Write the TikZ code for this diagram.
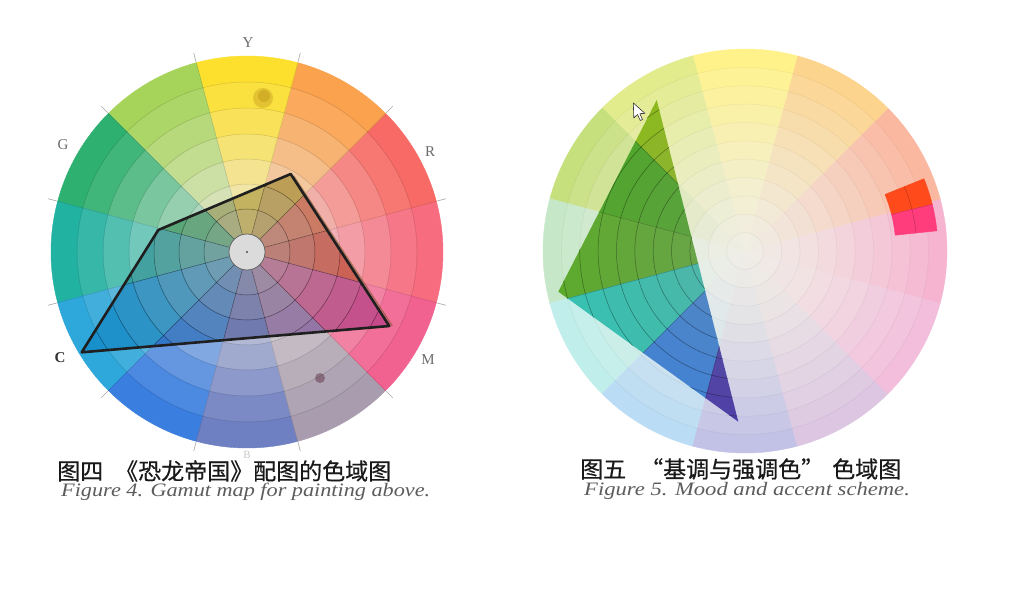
\documentclass[tikz,border=0pt]{standalone}
\usepackage{fontspec}
\setmainfont{Liberation Serif}
\newfontfamily\cjk[FakeBold=0.5]{Noto Sans CJK SC}
\usetikzlibrary{calc}
% left wheel, outside the gamut polygon
\definecolor{L0}{HTML}{F76C7E}\definecolor{L1}{HTML}{F86A66}\definecolor{L2}{HTML}{FBA24E}
\definecolor{L3}{HTML}{FDE02E}\definecolor{L4}{HTML}{A6D45A}\definecolor{L5}{HTML}{2EB070}
\definecolor{L6}{HTML}{22B2A2}\definecolor{L7}{HTML}{2EA8DA}\definecolor{L8}{HTML}{3A7EE0}
\definecolor{L9}{HTML}{6E80C2}\definecolor{L10}{HTML}{A89CAE}\definecolor{L11}{HTML}{F26290}
\definecolor{Lc}{HTML}{ECE8E2}
% left wheel, inside the gamut polygon
\definecolor{D0}{HTML}{D84A3A}\definecolor{D1}{HTML}{E06040}\definecolor{D2}{HTML}{C89A28}
\definecolor{D3}{HTML}{DEC020}\definecolor{D4}{HTML}{A8B850}\definecolor{D5}{HTML}{28A860}
\definecolor{D6}{HTML}{20A0A0}\definecolor{D7}{HTML}{1890CC}\definecolor{D8}{HTML}{2070D0}
\definecolor{D9}{HTML}{5060B8}\definecolor{D10}{HTML}{8C64A8}\definecolor{D11}{HTML}{C84488}
\definecolor{Dc}{HTML}{A8A4A0}
% right wheel, pastel
\definecolor{R0}{HTML}{F6B4D0}\definecolor{R1}{HTML}{FBB8A0}\definecolor{R2}{HTML}{FCD48E}
\definecolor{R3}{HTML}{FFF28A}\definecolor{R4}{HTML}{E2EC8C}\definecolor{R5}{HTML}{C6E07E}
\definecolor{R6}{HTML}{C6E8C8}\definecolor{R7}{HTML}{C0EEEA}\definecolor{R8}{HTML}{BADCF4}
\definecolor{R9}{HTML}{C2C2E6}\definecolor{R10}{HTML}{DCC6E2}\definecolor{R11}{HTML}{F2BEDC}
\definecolor{Rc}{HTML}{F0EEE6}
% right wheel, saturated inside triangle
\definecolor{T0}{HTML}{909090}\definecolor{T1}{HTML}{909090}\definecolor{T2}{HTML}{909090}
\definecolor{T3}{HTML}{909090}\definecolor{T4}{HTML}{8CBA1A}\definecolor{T5}{HTML}{4CA624}
\definecolor{T6}{HTML}{5CAA2C}\definecolor{T7}{HTML}{34C2B2}\definecolor{T8}{HTML}{3C80D8}
\definecolor{T9}{HTML}{4A3AA8}\definecolor{T10}{HTML}{909090}\definecolor{T11}{HTML}{909090}
\definecolor{Tc}{HTML}{8C9890}
\definecolor{accred}{HTML}{FF4A1C}\definecolor{accpink}{HTML}{FF3C7C}
\newcommand\wcell[5]{\filldraw[fill={#1},draw={#1},line width=.4pt] (#2:#4pt) arc[start angle=#2,end angle=#3,radius=#4pt] -- (#3:#5pt) arc[start angle=#3,end angle=#2,radius=#5pt] -- cycle;}
\tikzset{
  lab/.style={font=\fontsize{15}{15}\selectfont, text=black!58, inner sep=0pt},
  capzh/.style={anchor=west, font=\cjk\fontsize{23}{23}\selectfont, text=black!90, inner sep=0pt},
  capen/.style={anchor=west, font=\itshape\fontsize{19}{19}\selectfont, text=black!64, inner sep=0pt},
  gamut/.style={draw=black!88, line width=2.6pt, line join=round},
  ringline/.style={draw=black, line width=.5pt},
}
\begin{document}
\begin{tikzpicture}[x=1pt,y=1pt]
\path[use as bounding box, fill=white] (0,0) rectangle (1019,-612);
% ---------- left wheel ----------
\coordinate (LC) at (247,-252);
\coordinate (P1) at (290.7,-174);
\coordinate (P2) at (158.3,-230);
\coordinate (P3) at (81.7,-352.3);
\coordinate (P4) at (389.3,-326);
\begin{scope}[shift={(LC)}]
  \foreach \i in {0,...,11}{
    \pgfmathsetmacro\aone{30*\i-15}\pgfmathsetmacro\atwo{30*\i+15}
    \foreach \ra/\rb/\pc in {18/43/22,43/68/32,68/93/45,93/118/60,118/144/76,144/170/90,170/196/100}{
      \wcell{L\i!\pc!Lc}{\aone}{\atwo}{\ra}{\rb}
    }
  }
  \foreach \r in {43,68,93,118,144,170}{\draw[ringline, opacity=.15] (0,0) circle (\r pt);}
  \foreach \i in {0,...,11}{\draw[ringline, opacity=.15] (30*\i-15:18pt) -- (30*\i-15:196pt);}
  \begin{scope}
    \clip (P1) -- (P2) -- (P3) -- (P4) -- cycle;
    \foreach \i in {0,...,11}{
      \pgfmathsetmacro\aone{30*\i-15}\pgfmathsetmacro\atwo{30*\i+15}
      \foreach \ra/\rb/\pc in {18/43/40,43/68/50,68/93/62,93/118/74,118/144/86,144/170/95,170/196/100}{
        \wcell{D\i!\pc!Dc}{\aone}{\atwo}{\ra}{\rb}
      }
    }
    \foreach \r in {43,68,93,118,144,170}{\draw[ringline, opacity=.45] (0,0) circle (\r pt);}
    \foreach \i in {0,...,11}{\draw[ringline, opacity=.45] (30*\i-15:18pt) -- (30*\i-15:196pt);}
  \end{scope}
  \filldraw[fill={black!14}, draw=black!65, line width=.7pt] (0,0) circle (18pt);
  \fill[black!70] (0,0) circle (1.2pt);
  \foreach \i in {0,...,11}{\draw[black!35, line width=.6pt] (30*\i-15:197pt) -- (30*\i-15:206pt);}
\end{scope}
\fill[black!40!orange!70!olive, opacity=.22] (263,-98) circle (10pt);
\fill[black!40!orange!70!olive, opacity=.2] (264,-96) circle (6pt);
\fill[black!70!purple, opacity=.35] (320,-378) circle (5pt);
\draw[brown!70!black, line width=1.4pt, opacity=.6] ($(P1)+(3,-2)$) -- ($(P4)+(3,0)$);
\draw[gamut] (P1) -- (P2) -- (P3) -- (P4) -- cycle;
\node[lab] (Y) at (248,-43) {Y};
\node[lab] (G) at (63,-145) {G};
\node[lab] (R) at (430,-152) {R};
\node[lab, text=black!80, font=\bfseries\fontsize{15}{15}\selectfont] (C) at (60,-358) {C};
\node[lab] (M) at (428,-360) {M};
\node[lab, text=black!22, font=\fontsize{11}{11}\selectfont] (B) at (247,-455) {B};
% ---------- right wheel ----------
\coordinate (RC) at (745,-251);
\coordinate (T1) at (656.7,-100);
\coordinate (T2) at (558.3,-291.7);
\coordinate (T3) at (738.3,-421.7);
\begin{scope}[shift={(RC)}]
  \foreach \i in {0,...,11}{
    \pgfmathsetmacro\aone{30*\i-15}\pgfmathsetmacro\atwo{30*\i+15}
    \foreach \k in {1,...,11}{
      \pgfmathsetmacro\ra{202*(\k-1)/11+0.01}\pgfmathsetmacro\rb{202*\k/11}
      \pgfmathtruncatemacro\pc{100*(\k/11)^1.3}
      \wcell{R\i!\pc!Rc}{\aone}{\atwo}{\ra}{\rb}
    }
  }
  \foreach \k in {1,...,10}{\draw[ringline, opacity=.05] (0,0) circle ({202*\k/11 pt});}
  \begin{scope}
    \clip (T1) -- (T2) -- (T3) -- cycle;
    \foreach \i in {4,...,9}{
      \pgfmathsetmacro\aone{30*\i-15}\pgfmathsetmacro\atwo{30*\i+15}
      \foreach \k in {1,...,11}{
        \pgfmathsetmacro\ra{202*(\k-1)/11+0.01}\pgfmathsetmacro\rb{202*\k/11}
        \pgfmathtruncatemacro\pc{62+38*\k/11}
        \wcell{T\i!\pc!Tc}{\aone}{\atwo}{\ra}{\rb}
      }
    }
    \foreach \k in {1,...,10}{\draw[ringline, opacity=.4] (0,0) circle ({202*\k/11 pt});}
    \foreach \i in {4,...,10}{\draw[ringline, opacity=.25] (0,0) -- (30*\i-15:202pt);}
  \end{scope}
  % accent cells
  \wcell{accred}{14}{22}{151}{193}
  \wcell{accpink}{6}{14}{151}{193}
  \draw[black, opacity=.25, line width=.5pt] (6:172pt) arc[start angle=6, end angle=22, radius=172pt];
  \draw[black, opacity=.2, line width=.5pt] (14:151pt) -- (14:193pt);
\end{scope}
% mouse cursor
\filldraw[fill=white, draw=black!80, line width=.6pt, line join=round]
  (633.3,-103) -- (633.8,-118) -- (637.5,-114.5) -- (640.3,-120.5) -- (642.5,-119.5) -- (639.8,-113.6) -- (645,-113.4) -- cycle;
% ---------- captions ----------
\node[capzh] (cap4) at (57,-471) {图四\hspace{12pt}《恐龙帝国》配图的色域图};
\node[capen, xscale=1.17] (fig4) at (61,-492) {Figure 4. Gamut map for painting above.};
\node[capzh] (cap5) at (580,-469) {图五\hspace{14pt}“基调与强调色”\hspace{8pt}色域图};
\node[capen, xscale=1.19] (fig5) at (584,-491) {Figure 5. Mood and accent scheme.};
\end{tikzpicture}
\end{document}
